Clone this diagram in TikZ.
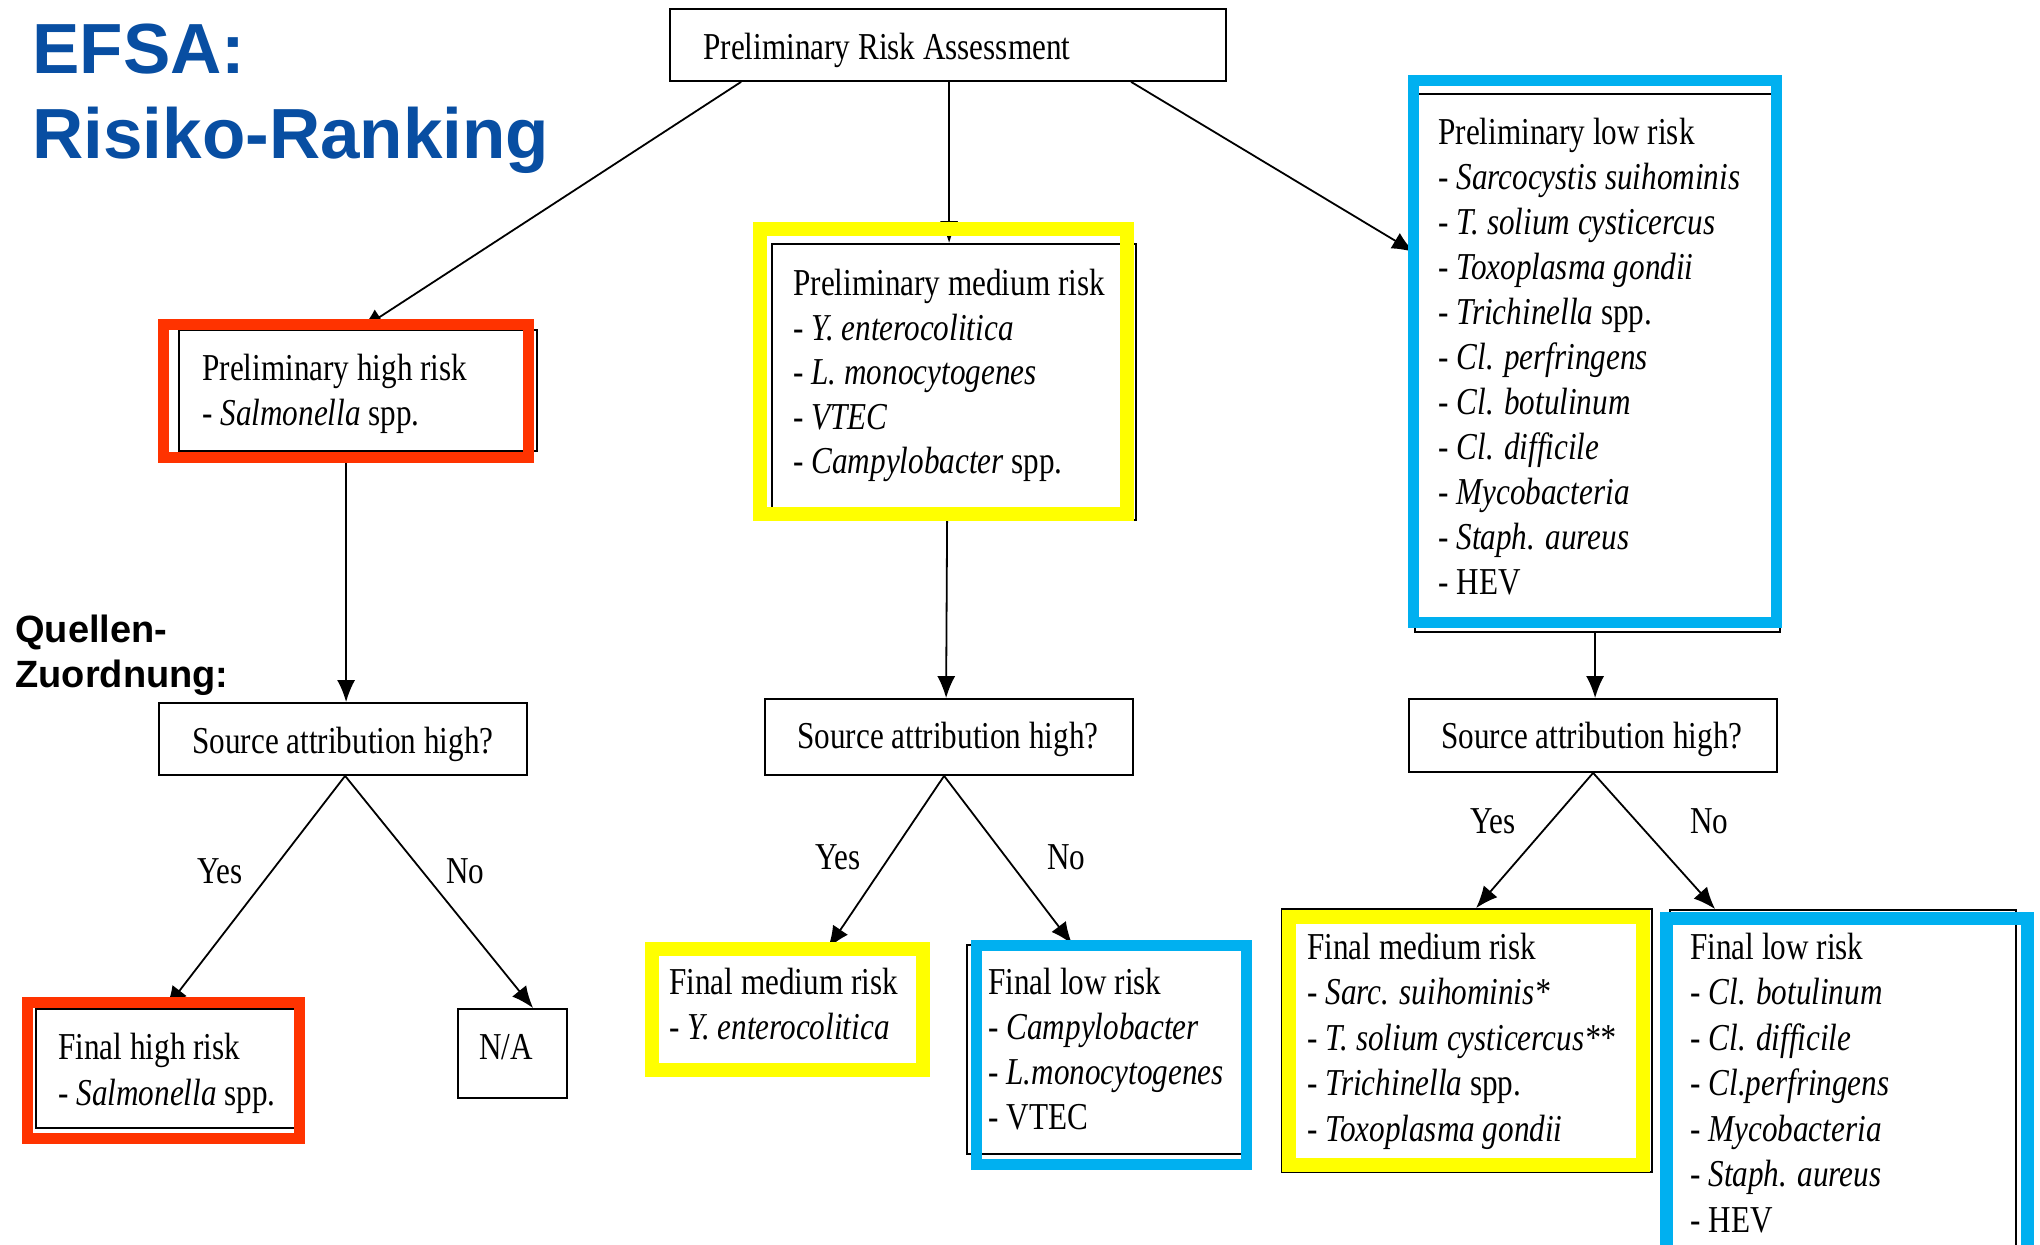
\documentclass[tikz,border=0pt]{standalone}
\usepackage{fontspec}
\setmainfont{Liberation Serif}
\newfontfamily\tnr[FakeStretch=0.82]{Liberation Serif}
\newfontfamily\hel{Liberation Sans}
\usetikzlibrary{fit,calc,arrows.meta}
\definecolor{efsablue}{RGB}{8,78,162}
\definecolor{hlred}{RGB}{255,51,0}
\definecolor{hlyellow}{RGB}{255,255,0}
\definecolor{hlblue}{RGB}{0,176,240}
\newcommand\txtlines[5]{%
  \foreach \mytext [count=\i from 0] in {#5} {\node[txt] (#1\i) at (#2,{#3+#4*\i}) {\mytext};}}
\begin{document}
\begin{tikzpicture}[x=0.5pt,y=-0.5pt,
  box/.style={draw=black,line width=0.9pt,inner sep=0pt},
  txt/.style={anchor=base west,inner sep=0pt,font=\tnr\fontsize{19pt}{22pt}\selectfont},
  ttl/.style={anchor=base west,inner sep=0pt,text=efsablue,font=\hel\bfseries\fontsize{35.5pt}{40pt}\selectfont},
  qz/.style={anchor=base west,inner sep=0pt,font=\hel\bfseries\fontsize{19pt}{22pt}\selectfont},
  arr/.style={-{Latex[length=11pt,width=9pt]},line width=0.9pt},
  hlr/.style={draw=hlred,line width=5.5pt},
  hly/.style={draw=hlyellow,line width=7pt},
  hlb/.style={draw=hlblue,line width=5.5pt}]
\clip (0,0) rectangle (2040,1245);
\fill[white] (0,0) rectangle (2040,1245);

% titles
\node[ttl] (t1) at (32,74) {EFSA:};
\node[ttl] (t2) at (32,159) {Risiko-Ranking};
\node[qz] (q1) at (15,643) {Quellen-};
\node[qz] (q2) at (15,688) {Zuordnung:};

% boxes
\node[box,fit={(670,9)(1226,81)}] (pra) {};
\node[box,fit={(179,330)(537,451)}] (phigh) {};
\node[box,fit={(772,244)(1136,520)}] (pmed) {};
\node[box,fit={(1415,94)(1780,632)}] (plow) {};
\node[box,fit={(159,703)(527,775)}] (sa1) {};
\node[box,fit={(765,699)(1133,775)}] (sa2) {};
\node[box,fit={(1409,699)(1777,772)}] (sa3) {};
\node[box,fit={(36,1009)(296,1128)}] (fhigh) {};
\node[box,fit={(458,1009)(567,1098)}] (na) {};
\node[box,fit={(652,949)(923,1070)}] (fmed1) {};
\node[box,fit={(967,945)(1246,1154)}] (flow1) {};
\node[box,fit={(1282,909)(1652,1172)}] (fmed2) {};
\node[box,fit={(1670,910)(2016,1300)}] (flow2) {};

% texts
\node[txt] (prat) at (703,60) {Preliminary Risk Assessment};
\txtlines{pht}{202}{381}{45}{Preliminary high risk,- \textit{Salmonella} spp.}
\txtlines{pmt}{793}{296}{44.5}{Preliminary medium risk,- \textit{Y. enterocolitica},- \textit{L. monocytogenes},- \textit{VTEC},- \textit{Campylobacter} spp.}
\txtlines{plt}{1438}{145}{45}{Preliminary low risk,- \textit{Sarcocystis suihominis},- \textit{T. solium cysticercus},- \textit{Toxoplasma gondii},- \textit{Trichinella} spp.,- \textit{Cl. perfringens},- \textit{Cl. botulinum},- \textit{Cl. difficile},- \textit{Mycobacteria},- \textit{Staph. aureus},- HEV}
\node[txt] (sa1t) at (192,753) {Source attribution high?};
\node[txt] (sa2t) at (797,748) {Source attribution high?};
\node[txt] (sa3t) at (1441,748) {Source attribution high?};
\txtlines{fht}{58}{1059}{46}{Final high risk,- \textit{Salmonella} spp.}
\node[txt] (nat) at (479,1059) {N/A};
\txtlines{fm1t}{669}{994}{45}{Final medium risk,- \textit{Y. enterocolitica}}
\txtlines{fl1t}{988}{994}{45}{Final low risk,- \textit{Campylobacter},- \textit{L.monocytogenes},- VTEC}
\txtlines{fm2t}{1307}{959}{45.5}{Final medium risk,- \textit{Sarc. suihominis*},- \textit{T. solium cysticercus**},- \textit{Trichinella} spp.,- \textit{Toxoplasma gondii}}
\txtlines{fl2t}{1690}{959}{45.5}{Final low risk,- \textit{Cl. botulinum},- \textit{Cl. difficile},- \textit{Cl.perfringens},- \textit{Mycobacteria},- \textit{Staph. aureus},- HEV}

% yes / no labels
\node[txt] (y1) at (197,883) {Yes};
\node[txt] (n1) at (446,883) {No};
\node[txt] (y2) at (815,869) {Yes};
\node[txt] (n2) at (1047,869) {No};
\node[txt] (y3) at (1470,833) {Yes};
\node[txt] (n3) at (1690,833) {No};

% connectors
\draw[arr] ($(pra.south west)+(72,0)$) -- ($(phigh.north west)+(183,0)$);
\draw[arr] ($(pra.south west)+(280,0)$) -- ($(pmed.north west)+(178,0)$);
\draw[arr] ($(pra.south west)+(462,0)$) -- ($(plow.north west)+(0,159)$);
\draw[arr] ($(phigh.south west)+(168,0)$) -- ($(sa1.north west)+(188,0)$);
\draw[arr] ($(pmed.south west)+(176,0)$) -- ($(sa2.north west)+(182,0)$);
\draw[arr] ($(plow.south west)+(181,0)$) -- ($(sa3.north west)+(187,0)$);
\draw[arr] ($(sa1.south west)+(187,0)$) -- ($(fhigh.north west)+(131,0)$);
\draw[arr] ($(sa1.south west)+(187,0)$) -- ($(na.north west)+(76,0)$);
\draw[arr] ($(sa2.south west)+(180,0)$) -- ($(fmed1.north west)+(177,0)$);
\draw[arr] ($(sa2.south west)+(180,0)$) -- ($(flow1.north west)+(106,0)$);
\draw[arr] ($(sa3.south west)+(185,0)$) -- ($(fmed2.north west)+(195,0)$);
\draw[arr] ($(sa3.south west)+(185,0)$) -- ($(flow2.north west)+(46,0)$);

% highlight frames
\draw[hlr] (163.5,324.5) rectangle (528.5,457.5);
\draw[hly] (759.5,229.5) rectangle (1126.5,514.5);
\draw[hlb] (1413.5,80.5) rectangle (1776.5,622.5);
\draw[hlr] (27.5,1002.5) rectangle (299.5,1138.5);
\draw[hly] (652,949) rectangle (923,1070);
\draw[hlb] (976.5,945.5) rectangle (1246.5,1164.5);
\draw[hly] (1289,917) rectangle (1643,1165);
\draw[draw=hlblue,line width=6.5pt] (1666.5,918.5) rectangle (2027.5,1300);
\end{tikzpicture}
\end{document}
